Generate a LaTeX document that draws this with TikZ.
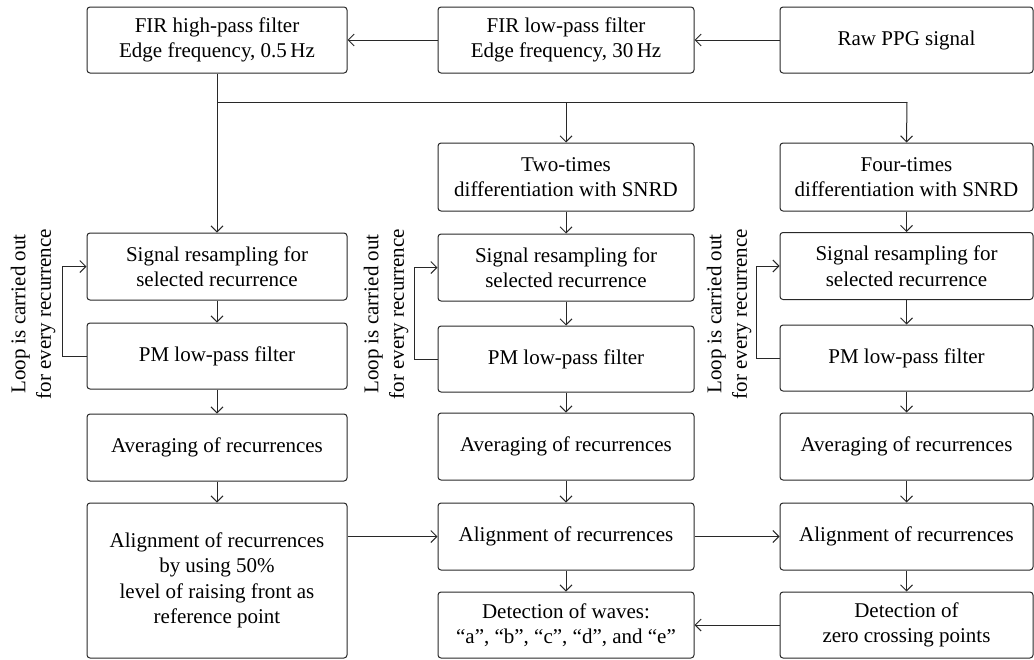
\documentclass[tikz,border=0pt]{standalone}
\usepackage{fontspec}
\setmainfont{Liberation Serif}
\usetikzlibrary{arrows.meta}
\definecolor{ln}{RGB}{40,40,40}
\begin{document}
\begin{tikzpicture}[x=1pt,y=-1pt,
  box/.style={draw=ln,line width=1pt,rounded corners=3pt,align=center,inner sep=0pt,
    font=\fontsize{21}{25.5}\selectfont},
  arr/.style={draw=ln,line width=1pt,-{Straight Barb[length=6pt,width=12pt,line width=1pt]}},
  ln/.style={draw=ln,line width=1pt},
  lab/.style={rotate=90,align=center,font=\fontsize{21}{25.5}\selectfont,inner sep=0pt}]
\useasboundingbox (0,0) rectangle (1034,659);
% column geometry: col1 87-347, col2 438-694, col3 780-1033
\newcommand\bx[6]{\node[box,minimum width=#3pt,minimum height=#4pt] (#1) at (#2,#5) {#6};}
% top row
\bx{hp}{217}{260}{66}{40}{FIR high-pass filter\\Edge frequency, 0.5\,Hz}
\bx{lp}{566}{256}{66}{40}{FIR low-pass filter\\Edge frequency, 30\,Hz}
\bx{raw}{906.5}{253}{66}{40}{Raw PPG signal}
% differentiation
\bx{d2}{566}{256}{68}{177}{Two-times\\differentiation with SNRD}
\bx{d4}{906.5}{253}{68}{177}{Four-times\\differentiation with SNRD}
% resampling
\bx{r1}{217}{260}{67}{266.5}{Signal resampling for\\selected recurrence}
\bx{r2}{566}{256}{67}{267.5}{Signal resampling for\\selected recurrence}
\bx{r3}{906.5}{253}{67}{266}{Signal resampling for\\selected recurrence}
% PM filter
\bx{p1}{217}{260}{66}{356}{PM low-pass filter}
\bx{p2}{566}{256}{66}{359}{PM low-pass filter}
\bx{p3}{906.5}{253}{66}{358}{PM low-pass filter}
% averaging
\bx{a1}{217}{260}{67}{447.5}{Averaging of recurrences}
\bx{a2}{566}{256}{67}{446.5}{Averaging of recurrences}
\bx{a3}{906.5}{253}{67}{446.5}{Averaging of recurrences}
% alignment
\bx{al1}{217}{260}{155}{580.5}{Alignment of recurrences\\by using 50\%\\level of raising front as\\reference point}
\bx{al2}{566}{256}{67}{536.5}{Alignment of recurrences}
\bx{al3}{906.5}{253}{67}{536.5}{Alignment of recurrences}
% detection
\bx{de2}{566}{256}{66}{625}{Detection of waves:\\“a”, “b”, “c”, “d”, and “e”}
\bx{de3}{906.5}{253}{66}{625}{Detection of\\zero crossing points}
% loop labels
\node[lab] (l1) at (33,314) {Loop is carried out\\for every recurrence};
\node[lab] (l2) at (386,314) {Loop is carried out\\for every recurrence};
\node[lab] (l3) at (729,314) {Loop is carried out\\for every recurrence};
% connectors
\draw[arr] (raw.west) -- (lp.east);
\draw[arr] (lp.west) -- (hp.east);
\coordinate (br) at (217,102);
\coordinate (br3) at (907,102);
\draw[arr] (hp.south) -- (r1.north);
\draw[ln] (br) -- (br3);
\draw[arr] (br -| d2.north) -- (d2.north);
\draw[arr] (br3) -- (d4.north);
\draw[arr] (d2) -- (r2);
\draw[arr] (d4) -- (r3);
\draw[arr] (r1) -- (p1);
\draw[arr] (r2) -- (p2);
\draw[arr] (r3) -- (p3);
\draw[arr] (p1) -- (a1);
\draw[arr] (p2) -- (a2);
\draw[arr] (p3) -- (a3);
\draw[arr] (a1) -- (al1);
\draw[arr] (a2) -- (al2);
\draw[arr] (a3) -- (al3);
\draw[arr] (al2) -- (de2);
\draw[arr] (al3) -- (de3);
\draw[arr] (al1.east |- al2.west) -- (al2.west);
\draw[arr] (al2.east) -- (al3.west);
\draw[arr] (de3.west) -- (de2.east);
% loops
\draw[arr] (p1.west) -- ++(-24,0) |- (r1.west);
\draw[arr] (p2.west) -- ++(-23,0) |- (r2.west);
\draw[arr] (p3.west) -- ++(-23,0) |- (r3.west);
\end{tikzpicture}
\end{document}
